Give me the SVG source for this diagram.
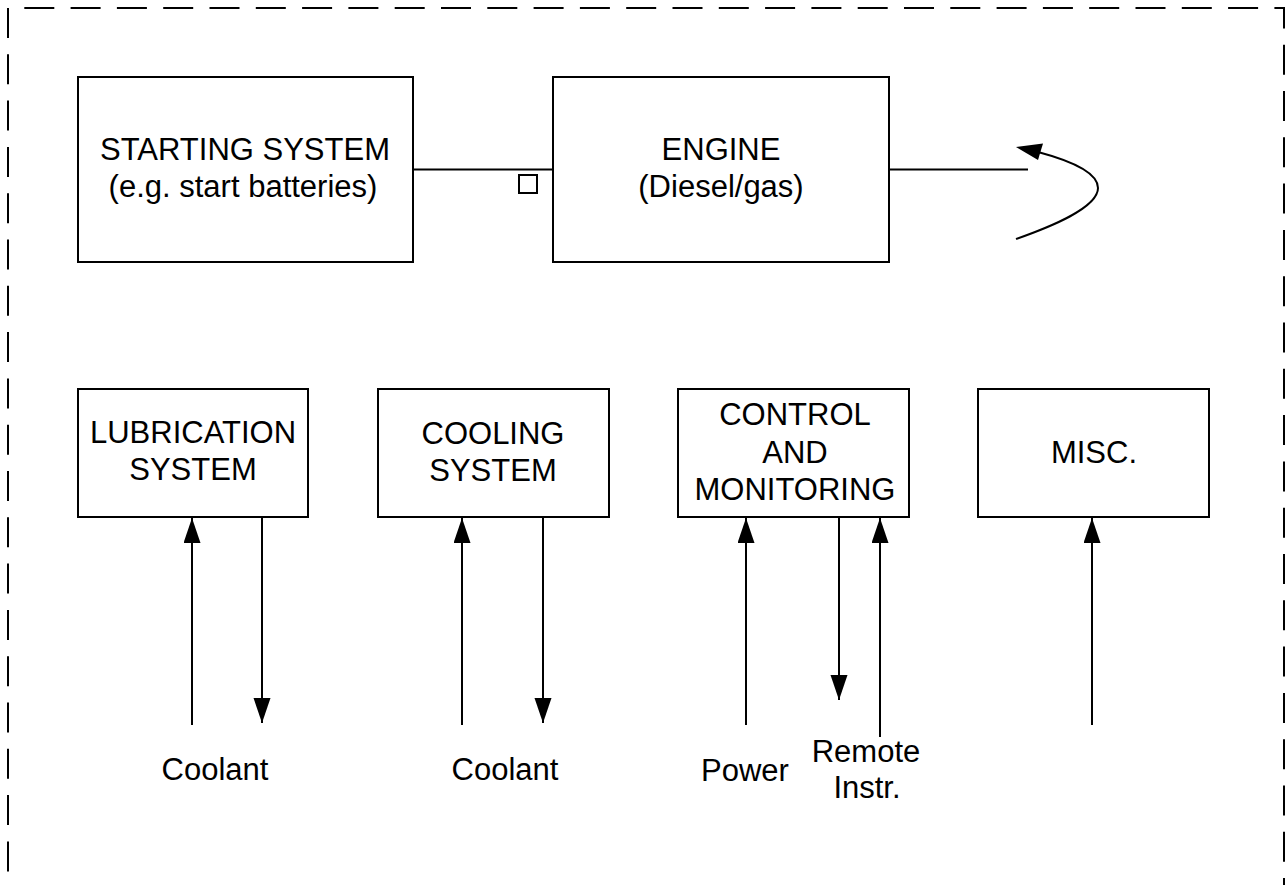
<svg xmlns="http://www.w3.org/2000/svg" width="1285" height="885" viewBox="0 0 1285 885">
<style>
.box{fill:#fff;stroke:#000;stroke-width:2}
.ln{fill:none;stroke:#000;stroke-width:2}
.t{font-family:"Liberation Sans",Arial,sans-serif;font-size:31px;fill:#000;text-anchor:middle}
.border{fill:none;stroke:#000;stroke-width:2;stroke-dasharray:30 16.3;stroke-dashoffset:32.7}
</style>
<defs>
<marker id="ah" markerUnits="userSpaceOnUse" markerWidth="27" markerHeight="19" refX="25" refY="8.5" orient="auto">
<path d="M0,0 L25,8.5 L0,17 Z" fill="#000"/>
</marker>
</defs>
<rect width="1285" height="885" fill="#fff"/>
<path class="border" d="M8,885 V8 H1284 V885"/>

<g id="starting-system">
<rect class="box" x="78" y="77" width="335" height="185"/>
<text class="t" x="245" y="160">STARTING SYSTEM</text>
<text class="t" x="243" y="197">(e.g. start batteries)</text>
</g>
<g id="engine">
<rect class="box" x="553" y="77" width="336" height="185"/>
<text class="t" x="721" y="160">ENGINE</text>
<text class="t" x="721" y="197">(Diesel/gas)</text>
</g>
<g id="lubrication">
<rect class="box" x="78" y="389" width="230" height="128"/>
<text class="t" x="193" y="443">LUBRICATION</text>
<text class="t" x="193" y="480">SYSTEM</text>
</g>
<g id="cooling">
<rect class="box" x="378" y="389" width="231" height="128"/>
<text class="t" x="493" y="444">COOLING</text>
<text class="t" x="493" y="481">SYSTEM</text>
</g>
<g id="control">
<rect class="box" x="678" y="389" width="231" height="128"/>
<text class="t" x="795" y="425">CONTROL</text>
<text class="t" x="795" y="463">AND</text>
<text class="t" x="795" y="500">MONITORING</text>
</g>
<g id="misc">
<rect class="box" x="978" y="389" width="231" height="128"/>
<text class="t" x="1094" y="463">MISC.</text>
</g>

<g id="connectors">
<line class="ln" x1="413" y1="169.5" x2="553" y2="169.5"/>
<rect class="box" x="519" y="175" width="18" height="18"/>
<line class="ln" x1="889" y1="169.5" x2="1028" y2="169.5"/>
<path class="ln" d="M1016,239 C1050,227 1098,208 1098,188 C1098,172 1068,160 1038,152"/>
<path d="M1016,147 L1043,143.5 L1038,160 Z" fill="#000"/>

<line class="ln" x1="192" y1="725" x2="192" y2="518" marker-end="url(#ah)"/>
<line class="ln" x1="262" y1="517" x2="262" y2="723" marker-end="url(#ah)"/>
<line class="ln" x1="462" y1="725" x2="462" y2="518" marker-end="url(#ah)"/>
<line class="ln" x1="543" y1="517" x2="543" y2="723" marker-end="url(#ah)"/>
<line class="ln" x1="746" y1="725" x2="746" y2="518" marker-end="url(#ah)"/>
<line class="ln" x1="839" y1="517" x2="839" y2="700" marker-end="url(#ah)"/>
<line class="ln" x1="880" y1="737" x2="880" y2="518" marker-end="url(#ah)"/>
<line class="ln" x1="1092" y1="725" x2="1092" y2="518" marker-end="url(#ah)"/>
</g>

<g id="labels">
<text class="t" x="215" y="780">Coolant</text>
<text class="t" x="505" y="780">Coolant</text>
<text class="t" x="745" y="781">Power</text>
<text class="t" x="866" y="762">Remote</text>
<text class="t" x="867" y="798">Instr.</text>
</g>
</svg>
